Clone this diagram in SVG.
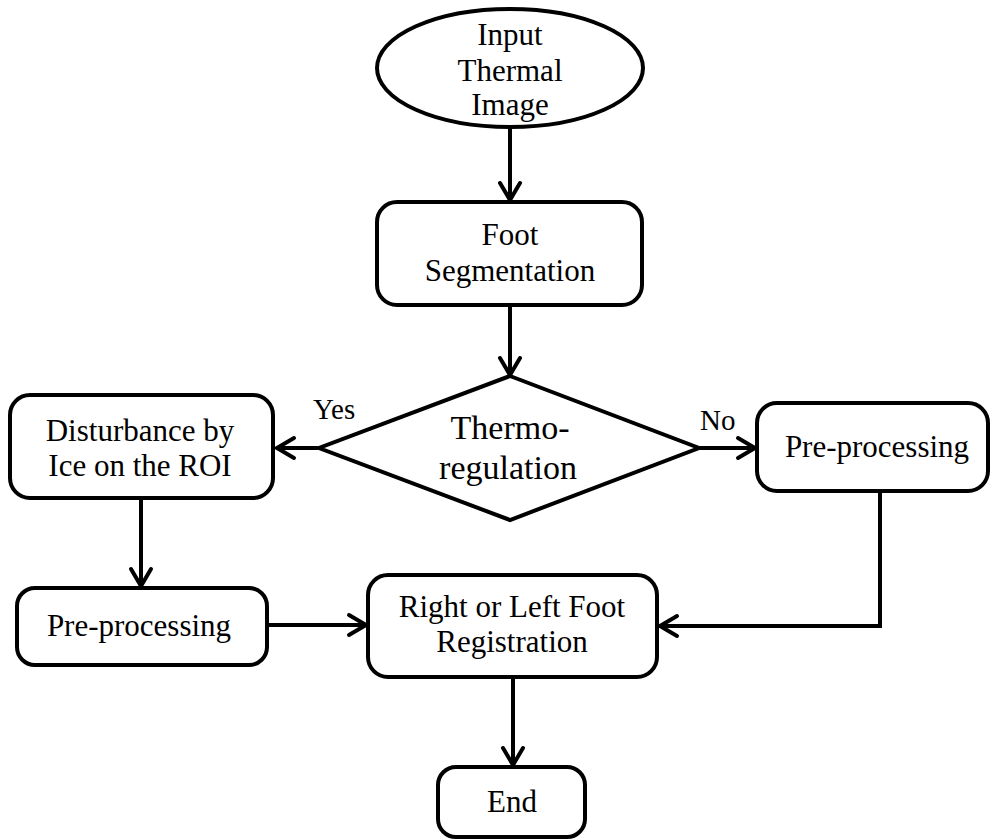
<svg xmlns="http://www.w3.org/2000/svg" width="992" height="839" viewBox="0 0 992 839">
<defs>
<style>
.shape{fill:#fff;stroke:#000;stroke-width:4}
.t{font-family:"Liberation Serif","Times New Roman",serif;font-size:31px;fill:#000;text-anchor:middle}
.big{font-size:34px}
.lbl{font-size:29px;text-anchor:start}
.conn{fill:none;stroke:#000;stroke-width:4}
</style>
<marker id="arr" markerUnits="userSpaceOnUse" markerWidth="30" markerHeight="30" viewBox="-22 -15 30 30" refX="0" refY="0" orient="auto">
<path d="M-18,-10 L-1,0 L-18,10" fill="none" stroke="#000" stroke-width="4" stroke-linecap="round"/>
</marker>
</defs>
<rect width="992" height="839" fill="#fff"/>
<g id="connectors">
<path class="conn" d="M510,128 V201" marker-end="url(#arr)"/>
<path class="conn" d="M510,305 V376" marker-end="url(#arr)"/>
<path class="conn" d="M318,448 H276" marker-end="url(#arr)"/>
<path class="conn" d="M700,448 H756" marker-end="url(#arr)"/>
<path class="conn" d="M141,498 V587" marker-end="url(#arr)"/>
<path class="conn" d="M267,625 H367" marker-end="url(#arr)"/>
<path class="conn" d="M880,491 V626 H659" marker-end="url(#arr)"/>
<path class="conn" d="M513,677 V766" marker-end="url(#arr)"/>
<text class="t lbl" x="313" y="419">Yes</text>
<text class="t lbl" x="700" y="430">No</text>
</g>
<g id="input">
<ellipse class="shape" cx="510" cy="68" rx="133" ry="59"/>
<text class="t" x="510" y="45">Input</text>
<text class="t" x="510" y="81">Thermal</text>
<text class="t" x="510" y="115">Image</text>
</g>
<g id="segmentation">
<rect class="shape" x="377" y="202" width="265" height="103" rx="20"/>
<text class="t" x="510" y="245">Foot</text>
<text class="t" x="510" y="281">Segmentation</text>
</g>
<g id="thermoregulation">
<polygon class="shape" points="510,376 699,448 510,520 319,448"/>
<text class="t big" x="510" y="439">Thermo-</text>
<text class="t big" x="508" y="479">regulation</text>
</g>
<g id="disturbance">
<rect class="shape" x="10" y="395" width="263" height="103" rx="20"/>
<text class="t" x="140" y="441">Disturbance by</text>
<text class="t" x="140" y="476">Ice on the ROI</text>
</g>
<g id="preprocessing-right">
<rect class="shape" x="757" y="403" width="231" height="88" rx="20"/>
<text class="t" x="877" y="457">Pre-processing</text>
</g>
<g id="preprocessing-left">
<rect class="shape" x="17" y="588" width="250" height="77" rx="18"/>
<text class="t" x="139" y="636">Pre-processing</text>
</g>
<g id="registration">
<rect class="shape" x="368" y="575" width="289" height="102" rx="20"/>
<text class="t" x="512" y="617">Right or Left Foot</text>
<text class="t" x="512" y="652">Registration</text>
</g>
<g id="end">
<rect class="shape" x="438" y="767" width="147" height="70" rx="18"/>
<text class="t" x="512" y="812">End</text>
</g>
</svg>
